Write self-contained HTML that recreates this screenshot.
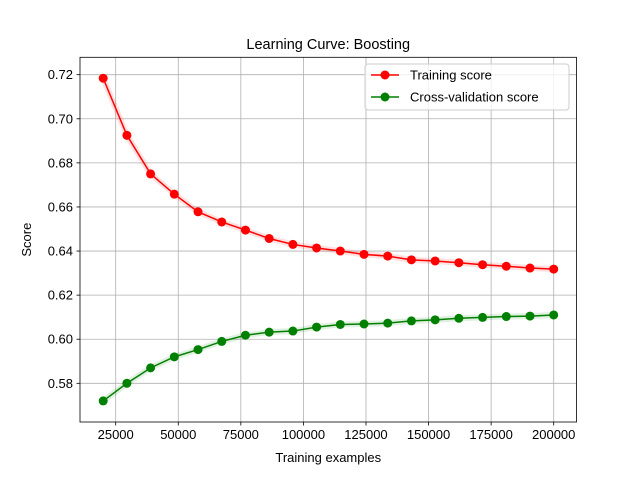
<!DOCTYPE html>
<html><head><meta charset="utf-8"><style>
body{margin:0;background:#fff;width:640px;height:474px;overflow:hidden}
text{font-family:"Liberation Sans","DejaVu Sans",sans-serif;fill:#000}
</style></head><body>
<svg id="chart" width="640" height="474" xmlns="http://www.w3.org/2000/svg"></svg>
<script>
const trainSizes=[20000,29474,38947,48421,57895,67368,76842,86316,95789,105263,114737,124211,133684,143158,152632,162105,171579,181053,190526,200000];
const trainScores=[0.7184,0.6925,0.675,0.6658,0.6578,0.6532,0.6495,0.6457,0.643,0.6414,0.640,0.6385,0.6377,0.6360,0.6355,0.6347,0.6338,0.6331,0.6323,0.6318];
const cvScores=[0.572,0.580,0.587,0.592,0.5953,0.599,0.6018,0.6032,0.6037,0.6055,0.6067,0.6069,0.6073,0.6083,0.6088,0.6095,0.6099,0.6103,0.6105,0.611];
const xTicks=[25000,50000,75000,100000,125000,150000,175000,200000];
const yTicks=[0.58,0.60,0.62,0.64,0.66,0.68,0.70,0.72];
const L=80,R=576.5,T=57.3,B=422;
const sx=v=>115.7+(v-25000)*(553.7-115.7)/175000;
const sy=v=>383.3-(v-0.58)*(383.3-74.7)/0.14;
const svg=document.getElementById('chart');
const NS='http://www.w3.org/2000/svg';
function mk(tag,attrs,parent){const e=document.createElementNS(NS,tag);for(const k in attrs)e.setAttribute(k,attrs[k]);(parent||svg).appendChild(e);return e;}
xTicks.forEach(v=>{const x=sx(v);
 const g=mk('line',{x1:x,x2:x,y1:T,y2:B,stroke:'#b0b0b0','stroke-width':0.8});
 
 
 mk('line',{x1:x,x2:x,y1:B,y2:B+3.5,stroke:'#000','stroke-width':0.8});
 const t=mk('text',{x:x,y:B+17,'text-anchor':'middle','font-size':13});t.textContent=v;
 
 
});
yTicks.forEach(v=>{const y=sy(v);
 const g=mk('line',{x1:L,x2:R,y1:y,y2:y,stroke:'#b0b0b0','stroke-width':0.8});
 
 
 mk('line',{x1:L-3.5,x2:L,y1:y,y2:y,stroke:'#000','stroke-width':0.8});
 const t=mk('text',{x:L-7,y:y+4.5,'text-anchor':'end','font-size':13});t.textContent=v.toFixed(2);
 
 
});
function series(vals,color,name){
 const pts=trainSizes.map((s,i)=>sx(s)+','+sy(vals[i])).join(' ');
 const band=mk('polyline',{points:pts,fill:'none',stroke:color,'stroke-opacity':0.12,'stroke-width':6});
 
 
 const pl=mk('polyline',{points:pts,fill:'none',stroke:color,'stroke-width':1.5});
 
 
 trainSizes.forEach((s,i)=>{const c=mk('circle',{cx:sx(s),cy:sy(vals[i]),r:4.5,fill:color});
  
  });
}
series(trainScores,'#ff0000','training-score');
series(cvScores,'#008000','cv-score');
const fr=mk('rect',{x:L,y:T,width:R-L,height:B-T,fill:'none',stroke:'#000','stroke-width':0.8});


const ti=mk('text',{x:(L+R)/2,y:49,'text-anchor':'middle','font-size':14.5});ti.textContent='Learning Curve: Boosting';


const xl=mk('text',{x:(L+R)/2,y:462,'text-anchor':'middle','font-size':13});xl.textContent='Training examples';


const yl=mk('text',{x:0,y:0,'text-anchor':'middle','font-size':13,transform:'translate(31,'+((T+B)/2)+') rotate(-90)'});yl.textContent='Score';


const lg=mk('g',{});


mk('rect',{x:365,y:64,width:204,height:46,rx:3,fill:'#fff','fill-opacity':0.8,stroke:'#ccc','stroke-width':1},lg);
[['Training score','#ff0000',75],['Cross-validation score','#008000',97]].forEach(([lab,c,y])=>{
 const e=mk('g',{},lg);
 
 
 mk('line',{x1:371,x2:399,y1:y,y2:y,stroke:c,'stroke-width':1.5},e);
 mk('circle',{cx:385,cy:y,r:4.5,fill:c},e);
 const t=mk('text',{x:410,y:y+4.5,'font-size':13},e);t.textContent=lab;
});
</script>
</body></html>
